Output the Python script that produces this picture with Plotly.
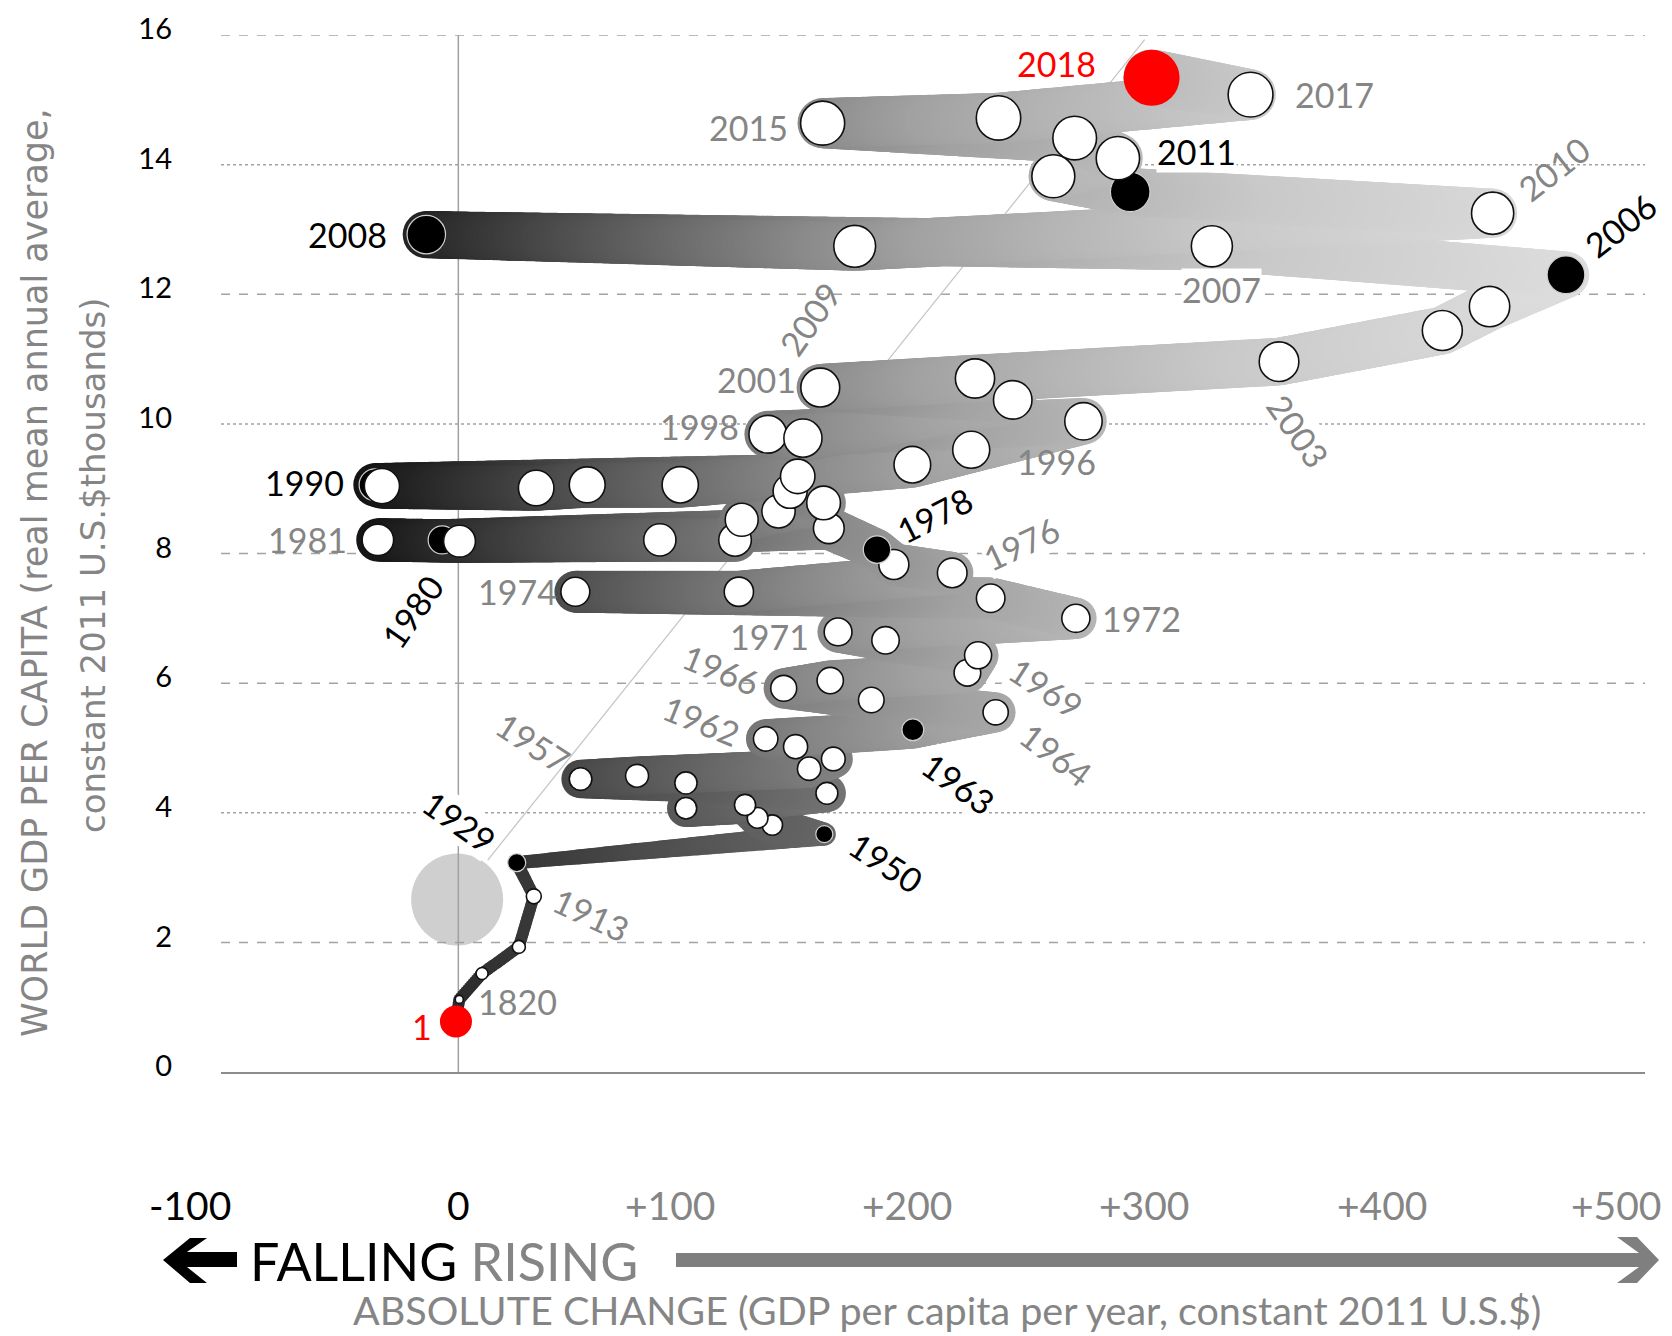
import math
import plotly.graph_objects as go

# ---------------- data ----------------
years = [1, 1820, 1870, 1900, 1913, 1929,
         1950, 1951, 1952, 1953, 1954, 1955, 1956, 1957, 1958, 1959,
         1960, 1961, 1962, 1963, 1964, 1965, 1966, 1967, 1968, 1969,
         1970, 1971, 1972, 1973, 1974, 1975, 1976, 1977, 1978, 1979,
         1980, 1981, 1982, 1983, 1984, 1985, 1986, 1987, 1988, 1989,
         1990, 1991, 1992, 1993, 1994, 1995, 1996, 1997, 1998, 1999,
         2000, 2001, 2002, 2003, 2004, 2005, 2006, 2007, 2008, 2009,
         2010, 2011, 2012, 2013, 2014, 2015, 2016, 2017, 2018]

# absolute change in GDP per capita per year (constant 2011 US$)
abs_change = [-1.0, 0.4, 10.0, 25.5, 31.8, 24.6,
              154.2, 132.3, 126.1, 120.8, 95.9, 155.3, 95.9, 51.5, 75.3, 147.8,
              158.0, 142.1, 129.5, 191.5, 226.4, 174.0, 137.1, 156.7, 214.5, 219.0,
              180.0, 160.0, 260.2, 224.3, 49.3, 118.2, 208.1, 183.5, 176.4, 156.1,
              -6.8, -33.9, 0.5, 84.9, 116.6, 119.4, 134.9, 153.9, 139.8, 143.0,
              -35.1, -32.2, 32.8, 54.3, 93.5, 191.3, 216.1, 263.4, 130.4, 145.2,
              233.6, 152.5, 217.7, 345.8, 414.6, 434.5, 466.7, 317.5, -13.5, 167.0,
              435.8, 283.1, 250.7, 277.9, 259.7, 153.5, 227.6, 333.8, 292.1]

# world GDP per capita (thousands, constant 2011 US$)
gdp_per_capita = [0.78, 1.12, 1.52, 1.93, 2.71, 3.23,
                  3.67, 3.81, 3.92, 4.12, 4.07, 4.30, 4.46, 4.52, 4.57, 4.68,
                  4.83, 5.02, 5.14, 5.28, 5.55, 5.74, 5.92, 6.04, 6.16, 6.43,
                  6.66, 6.79, 7.00, 7.31, 7.41, 7.41, 7.70, 7.83, 8.06, 8.39,
                  8.21, 8.21, 8.19, 8.21, 8.21, 8.52, 8.65, 8.78, 8.96, 9.19,
                  9.06, 9.04, 9.01, 9.06, 9.06, 9.37, 9.60, 10.04, 9.84, 9.78,
                  10.37, 10.56, 10.70, 10.96, 11.44, 11.81, 12.30, 12.74, 12.92, 12.74,
                  13.25, 13.58, 13.82, 14.10, 14.41, 14.64, 14.72, 15.08, 15.34]

black_years = [1929, 1950, 1963, 1978, 1980, 1990, 2006, 2008, 2011]
red_years = [1, 2018]

label_years = [1, 1820, 1913, 1929, 1950, 1957, 1962, 1963, 1964, 1966, 1969,
               1971, 1972, 1974, 1976, 1978, 1980, 1981, 1990, 1996, 1998,
               2001, 2003, 2006, 2007, 2008, 2009, 2010, 2011, 2015, 2017, 2018]

x_tick_values = [-100, 0, 100, 200, 300, 400, 500]
x_tick_labels = ["-100", "0", "+100", "+200", "+300", "+400", "+500"]
y_tick_values = [0, 2, 4, 6, 8, 10, 12, 14, 16]
y_tick_labels = ["0", "2", "4", "6", "8", "10", "12", "14", "16"]

reference_circle_x = [-0.5]
reference_circle_y = [2.66]
guide_line_x = [12.4, 289.2]
guide_line_y = [3.27, 15.93]

# ---------------- geometry / styles ----------------
# the page body has an 8px margin, so the figure is 8px smaller and
# all page-pixel positions below are converted with that offset
OFF = 8
W, H = 1672 - OFF, 1336 - OFF
PLOT_LEFT, PLOT_TOP, PLOT_RIGHT, PLOT_BOTTOM = 221, 35, 1645, 1072   # page pixels
ML, MT = PLOT_LEFT - OFF, PLOT_TOP - OFF
MR = W + OFF - PLOT_RIGHT
MB = H + OFF - PLOT_BOTTOM
PW, PH = PLOT_RIGHT - PLOT_LEFT, PLOT_BOTTOM - PLOT_TOP
X0, X1, Y0, Y1 = -100, 500, 0, 16
SX, SY = PW / (X1 - X0), PH / (Y1 - Y0)

FONT = "Lato"
GRAY_TXT = "#858585"


def paper(px, py):
    return (px - PLOT_LEFT) / PW, (PLOT_BOTTOM - py) / PH


def kind_of(year):
    if year in red_years:
        return "red"
    if year in black_years:
        return "black"
    return "white"


def marker_size(year, kind):
    if year == 2018:
        return 56
    if year == 1:
        return 32
    early = {1820: 8, 1870: 12, 1900: 13, 1913: 15, 1929: 18}
    if year in early:
        return early[year]
    s = 20 + (year - 1950) * 0.37
    return s - 3 if kind == "black" else s


def band_width(year, size):
    if year < 1929:
        return 12
    if year == 1929:
        return 13
    if year == 1950:
        return 23
    return 0.55 * size + 26


def shade_factor(year):
    # early decades of the band are drawn in darker tones
    if year <= 1950:
        return 0.6
    return min(1.0, 0.6 + (year - 1950) * 0.027)


kinds = [kind_of(y) for y in years]
sizes = [marker_size(y, k) for y, k in zip(years, kinds)]
widths = [band_width(y, s) for y, s in zip(years, sizes)]
shades = [shade_factor(y) for y in years]

# thick gradient band following the data path (rendered as dense markers)
bx, by, bs, bc = [], [], [], []
for i in range(len(years) - 1):
    xa, ya = abs_change[i], gdp_per_capita[i]
    xb, yb = abs_change[i + 1], gdp_per_capita[i + 1]
    L = math.hypot((xb - xa) * SX, (yb - ya) * SY)
    n = max(1, int(L / 2.5))
    for k in range(n):
        t = k / n
        xx = xa + (xb - xa) * t
        bx.append(xx)
        by.append(ya + (yb - ya) * t)
        bs.append(widths[i] + (widths[i + 1] - widths[i]) * t)
        bc.append(xx * (shades[i] + (shades[i + 1] - shades[i]) * t))
bx.append(abs_change[-1]); by.append(gdp_per_capita[-1]); bs.append(widths[-1])
bc.append(abs_change[-1] * shades[-1])

cmin, cmax = -40, 480
stops = [(-40, "#111111"), (0, "#2c2c2c"), (50, "#4d4d4d"), (100, "#6b6b6b"),
         (150, "#888888"), (200, "#a1a1a1"), (260, "#b5b5b5"), (330, "#c9c9c9"),
         (480, "#dfdfdf")]
colorscale = [[(v - cmin) / (cmax - cmin), c] for v, c in stops]

fig = go.Figure()

fig.add_trace(go.Scatter(x=guide_line_x, y=guide_line_y, mode="lines",
                         line=dict(color="#c4c4c4", width=1.2),
                         hoverinfo="skip", showlegend=False))

fig.add_trace(go.Scatter(x=reference_circle_x, y=reference_circle_y, mode="markers",
                         marker=dict(size=92, color="rgba(160,160,160,0.5)", opacity=1,
                                     line=dict(width=0)),
                         hoverinfo="skip", showlegend=False))

fig.add_trace(go.Scatter(x=bx, y=by, mode="markers",
                         marker=dict(size=bs, color=bc, colorscale=colorscale, opacity=1,
                                     cmin=cmin, cmax=cmax, line=dict(width=0)),
                         hoverinfo="skip", showlegend=False, cliponaxis=False))

fill = {"white": "#ffffff", "black": "#000000", "red": "#ff0000"}
edge = {"white": "#111111", "black": "#d0d0d0", "red": "#ff0000"}
edge_w = {"white": 1.6, "black": 1.2, "red": 0}
fig.add_trace(go.Scatter(
    x=abs_change, y=gdp_per_capita, mode="markers",
    marker=dict(size=sizes, color=[fill[k] for k in kinds], opacity=1,
                line=dict(color=[edge[k] for k in kinds], width=[edge_w[k] for k in kinds])),
    text=[str(y) for y in years], hoverinfo="text", showlegend=False, cliponaxis=False))

# ---------------- grid & reference lines ----------------
grid_dash = {2: "dash", 4: "dot", 6: "dash", 8: "dash", 10: "dot", 12: "dash", 14: "dot", 16: "dash"}
shapes = []
for yv in y_tick_values[1:]:
    shapes.append(dict(type="line", xref="x", yref="y", x0=X0, x1=X1, y0=yv, y1=yv,
                       line=dict(color="#a3a3a3", width=1.5, dash=grid_dash[yv]), layer="below"))
shapes.append(dict(type="line", xref="x", yref="y", x0=0, x1=0, y0=Y0, y1=Y1,
                   line=dict(color="#a0a0a0", width=1.5), layer="below"))


def path_from_px(pts):
    out = []
    for j, (px, py) in enumerate(pts):
        xp, yp = paper(px, py)
        out.append(("M" if j == 0 else "L") + f"{xp:.5f},{yp:.5f}")
    return " ".join(out) + " Z"


left_arrow = [(163, 1260), (190, 1238), (207, 1238), (187, 1252), (237, 1252),
              (237, 1267), (187, 1267), (207, 1283), (190, 1283)]
right_arrow = [(676, 1253), (1639, 1253), (1617, 1237), (1637, 1237), (1659, 1260),
               (1637, 1283), (1617, 1283), (1639, 1267), (676, 1267)]
shapes.append(dict(type="path", xref="paper", yref="paper", path=path_from_px(left_arrow),
                   fillcolor="#000000", line=dict(width=0)))
shapes.append(dict(type="path", xref="paper", yref="paper", path=path_from_px(right_arrow),
                   fillcolor="#7f7f7f", line=dict(width=0)))

# ---------------- annotations ----------------
ann = []
label_style = {
    1: (-34, -5, 0), 1820: (58, -2, 0), 1913: (58, -18, 25), 1929: (-57, 41, 35),
    1950: (62, -28, 33), 1957: (-47, 37, 33), 1962: (-64, 18, 22), 1963: (46, -54, 35),
    1964: (61, -42, 37), 1966: (-62, 19, 22), 1969: (68, -32, 33), 1971: (-69, -5, 0),
    1972: (66, 0, 0), 1974: (-58, 0, 0), 1976: (69, 29, -25), 1978: (58, 35, -27),
    1980: (-30, -72, -55), 1981: (-70, 0, 0), 1990: (-71, 2, 0), 1996: (85, -12, 0),
    1998: (-68, 8, 0), 2001: (-64, 8, 0), 2003: (19, -69, 55), 2006: (55, 50, -38),
    2007: (10, -43, 0), 2008: (-79, 0, 0), 2009: (-45, -72, -55), 2010: (61, 45, -38),
    2011: (66, 40, 0), 2015: (-74, -4, 0), 2017: (84, 0, 0), 2018: (-95, 14, 0),
}
bg_years = {1929, 1963, 2003, 2007, 2011, 1976, 1969}
label_color = {"red": "#ff0000", "black": "#000000", "white": GRAY_TXT}
for yr in label_years:
    i = years.index(yr)
    dx, dy, ang = label_style[yr]
    ann.append(dict(x=abs_change[i], y=gdp_per_capita[i], xref="x", yref="y",
                    text=str(yr), showarrow=False, xshift=dx, yshift=dy, textangle=ang,
                    xanchor="center", yanchor="middle",
                    bgcolor="#ffffff" if yr in bg_years else "rgba(0,0,0,0)", borderpad=0,
                    font=dict(family=FONT, size=34, color=label_color[kinds[i]])))

x_label_shift = [-31, 0, -26, -26, -26, -26, -29]
for v, t, s in zip(x_tick_values, x_tick_labels, x_label_shift):
    ann.append(dict(x=v, y=0, xref="x", yref="y", text=t, showarrow=False,
                    xshift=s, yshift=-133, xanchor="center", yanchor="middle",
                    font=dict(family=FONT, size=39, color="#000000" if v <= 0 else GRAY_TXT)))

xp, yp = paper(248, 1261)
ann.append(dict(x=xp, y=yp, xref="paper", yref="paper", showarrow=False,
                xanchor="left", yanchor="middle",
                text="FALLING <span style='color:#858585'>RISING</span>",
                font=dict(family=FONT, size=52, color="#000000")))
xp, yp = paper(947, 1309)
ann.append(dict(x=xp, y=yp, xref="paper", yref="paper", showarrow=False,
                xanchor="center", yanchor="middle",
                text="ABSOLUTE CHANGE (GDP per capita per year, constant 2011 U.S.$)",
                font=dict(family=FONT, size=39.5, color=GRAY_TXT)))
xp, yp = paper(35, 573)
ann.append(dict(x=xp, y=yp, xref="paper", yref="paper", showarrow=False, textangle=-90,
                xanchor="center", yanchor="middle",
                text="WORLD GDP PER CAPITA (real mean annual average,",
                font=dict(family="DejaVu Sans", size=35, color=GRAY_TXT)))
xp, yp = paper(93, 565)
ann.append(dict(x=xp, y=yp, xref="paper", yref="paper", showarrow=False, textangle=-90,
                xanchor="center", yanchor="middle",
                text="constant 2011 U.S.$thousands)",
                font=dict(family="DejaVu Sans", size=34, color=GRAY_TXT)))

fig.update_layout(
    width=W, height=H,
    margin=dict(l=ML, r=MR, t=MT, b=MB, autoexpand=False),
    paper_bgcolor="#ffffff", plot_bgcolor="#ffffff",
    shapes=shapes, annotations=ann, showlegend=False,
    xaxis=dict(range=[X0, X1], showgrid=False, zeroline=False, showticklabels=False,
               ticks="", showline=True, linecolor="#8c8c8c", linewidth=2, fixedrange=True),
    yaxis=dict(range=[Y0, Y1], showgrid=False, zeroline=False, showline=False, ticks="",
               tickvals=y_tick_values, ticktext=y_tick_labels, ticklabelstandoff=48,
               ticklabelshift=-6, tickfont=dict(family=FONT, size=29, color="#000000"),
               fixedrange=True),
)

fig.write_html("out.html")
